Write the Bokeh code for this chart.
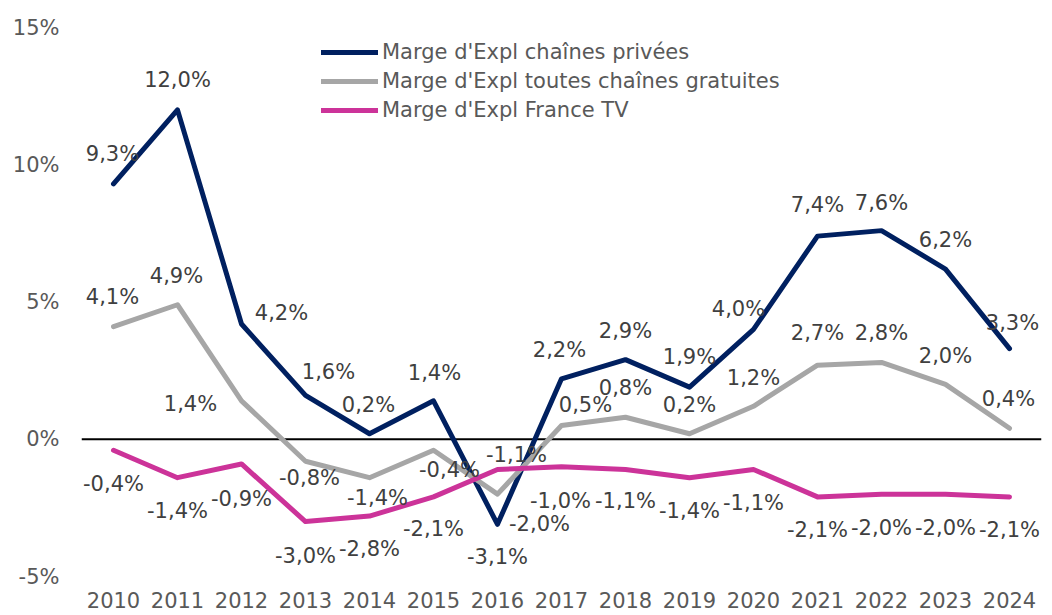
from bokeh.plotting import figure
from bokeh.models import (FixedTicker, PrintfTickFormatter, Span, Legend, LegendItem,
                          ColumnDataSource)
from bokeh.core.properties import value
from bokeh.embed import file_html
from bokeh.resources import INLINE

years = list(range(2010, 2025))
privees = [9.3, 12.0, 4.2, 1.6, 0.2, 1.4, -3.1, 2.2, 2.9, 1.9, 4.0, 7.4, 7.6, 6.2, 3.3]
gratuites = [4.1, 4.9, 1.4, -0.8, -1.4, -0.4, -2.0, 0.5, 0.8, 0.2, 1.2, 2.7, 2.8, 2.0, 0.4]
france_tv = [-0.4, -1.4, -0.9, -3.0, -2.8, -2.1, -1.1, -1.0, -1.1, -1.4, -1.1, -2.1, -2.0, -2.0, -2.1]
series_names = ["Marge d'Expl chaînes privées",
                "Marge d'Expl toutes chaînes gratuites",
                "Marge d'Expl France TV"]
y_ticks = [-5, 0, 5, 10, 15]

# label placement (pixel offsets of the label centre from its point)
lab_dx = {
    0: [-1, 0, 40, 23, -1, 1, 0, -2, 0, 0, -15, 0, 0, 0, 3],
    1: [-1, -1, -51, 4, 8, 16, 42, 24, 0, 0, 0, 0, 0, 0, -1],
    2: [0, 0, 0, 0, 0, 0, 19, -1, 0, 0, 0, 0, 0, 0, 0],
}
lab_dy = {
    0: [-30, -30, -11, -23, -29, -28, 33, -29, -29, -30, -20, -31, -28, -29, -26],
    1: [-30, -29, 3, 17, 20, 20, 30, -21, -29, -29, -28, -32, -29, -28, -29],
    2: [34, 33, 35, 34, 33, 32, -14, 34, 32, 33, 34, 33, 34, 34, 33],
}
colors = ["#002060", "#A6A6A6", "#CC3399"]
FONT = "DejaVu Sans"
FS = 21

p = figure(frame_width=960, frame_height=549, min_border_left=81, min_border_right=3,
           min_border_top=27, min_border_bottom=39,
           x_range=(2009.5, 2024.5), y_range=(-5, 15),
           output_backend="svg", toolbar_location=None)
p.outline_line_color = None
p.xgrid.grid_line_color = None
p.ygrid.grid_line_color = None
p.background_fill_color = "white"
p.border_fill_color = "white"

for ax in (p.xaxis, p.yaxis):
    ax.axis_line_color = None
    ax.major_tick_line_color = None
    ax.minor_tick_line_color = None
    ax.major_tick_out = 0
    ax.major_tick_in = 0
    ax.major_label_text_font = FONT
    ax.major_label_text_font_size = f"{FS}px"
    ax.major_label_text_color = "#595959"

p.xaxis.ticker = FixedTicker(ticks=years)
p.xaxis.formatter = PrintfTickFormatter(format="%d")
p.xaxis.major_label_standoff = 15
p.yaxis.ticker = FixedTicker(ticks=y_ticks)
p.yaxis.formatter = PrintfTickFormatter(format="%d%%")
p.yaxis.major_label_standoff = 22

p.add_layout(Span(location=0, dimension="width", line_color="black", line_width=2,
                  level="underlay"))

items = []
all_series = [privees, gratuites, france_tv]
for i, vals in enumerate(all_series):
    r = p.line(years, vals, line_color=colors[i], line_width=5,
               line_cap="round", line_join="round")
    items.append(LegendItem(label=series_names[i], renderers=[r]))

for i, vals in enumerate(all_series):
    src = ColumnDataSource(dict(
        x=years, y=vals,
        t=[f"{v:.1f}".replace(".", ",") + "%" for v in vals],
        dx=lab_dx[i], dy=lab_dy[i]))
    p.text(x="x", y="y", text="t", x_offset="dx", y_offset="dy", source=src,
           text_align="center", text_baseline="middle",
           text_font=value(FONT), text_font_size=value(f"{FS}px"),
           text_color="#404040")

legend = Legend(items=items, location=(240, 454),
                label_text_font=FONT, label_text_font_size=f"{FS}px",
                label_text_color="#595959",
                glyph_width=57, glyph_height=20, label_standoff=4, spacing=5,
                padding=0, margin=0, border_line_color=None,
                background_fill_alpha=0)
p.add_layout(legend)

open("out.html", "w").write(file_html(p, INLINE))
